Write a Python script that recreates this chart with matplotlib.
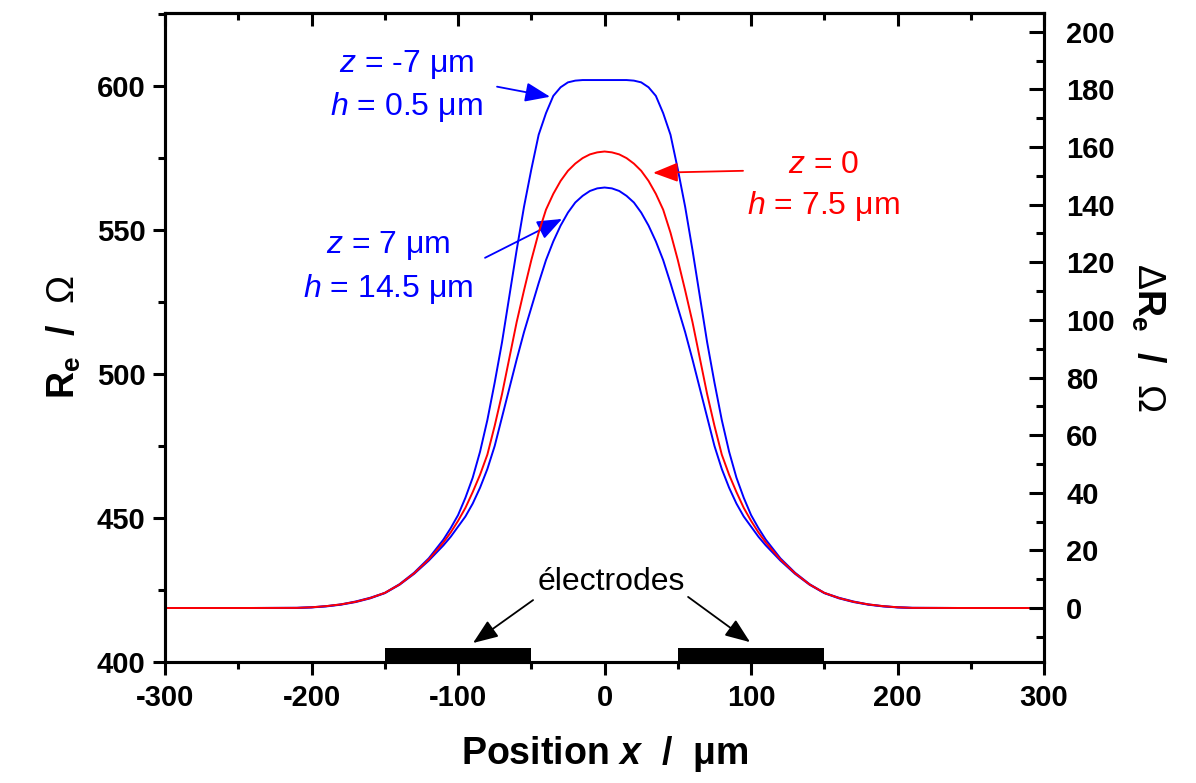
import numpy as np
import matplotlib.pyplot as plt
from matplotlib.ticker import MultipleLocator

plt.rcParams['font.family'] = ['Liberation Sans', 'DejaVu Sans']
plt.rcParams['axes.unicode_minus'] = False
plt.rcParams['mathtext.fontset'] = 'custom'
plt.rcParams['mathtext.rm'] = 'Liberation Sans'
plt.rcParams['mathtext.it'] = 'Liberation Sans:italic'
plt.rcParams['mathtext.bf'] = 'Liberation Sans:bold'
plt.rcParams['mathtext.bfit'] = 'Liberation Sans:italic:bold'

## ---------------------------------------------------------------------------
##  Data
## ---------------------------------------------------------------------------

# Position x / um
x_pos = [-300, -250, -210, -200, -190, -180, -170, -160, -150, -140, -130,
         -120,
         -110, -105, -100, -95, -90, -85, -80, -75, -70, -65, -60, -55, -50,
         -45, -40, -35, -30, -25, -20, -15, -10, -5,
         0,
         5, 10, 15, 20, 25, 30, 35, 40, 45, 50, 55, 60, 65, 70, 75, 80, 85,
         90, 95, 100, 105, 110,
         120, 130, 140, 150, 160, 170, 180, 190, 200, 210, 250, 300]

# Re / Ohm, z = -7 um (h = 0.5 um)
re_zm7 = [418.75, 418.75, 418.8, 419.0, 419.4, 420.0, 421.0, 422.3, 424.0,
          427.0, 431.0, 436.0,
          442.5, 446.5, 451, 457, 464, 473, 484, 497, 511, 527, 543, 558,
          571, 583, 590.5, 596.5, 599.5, 601.2, 601.8, 602, 602, 602,
          602,
          602, 602, 602, 601.8, 601.2, 599.5, 596.5, 590.5, 583, 571, 558,
          543, 527, 511, 497, 484, 473, 464, 457, 451, 446.5, 442.5,
          436.0, 431.0, 427.0, 424.0, 422.3, 421.0, 420.0, 419.4, 419.0,
          418.8, 418.75, 418.75]

# Re / Ohm, z = 0 (h = 7.5 um)
re_z0 = [418.75, 418.75, 418.8, 419.0, 419.4, 420.0, 420.9, 422.2, 424.0,
         426.9, 430.8, 435.6,
         441.5, 445, 449, 453.5, 459, 465, 472, 482, 493, 505.5, 518, 529,
         539.5, 549, 557, 562.5, 567, 570.5, 573, 574.9, 576.2, 576.9,
         577.2,
         576.9, 576.2, 574.9, 573, 570.5, 567, 562.5, 557, 549, 539.5, 529,
         518, 505.5, 493, 482, 472, 465, 459, 453.5, 449, 445, 441.5,
         435.6, 430.8, 426.9, 424.0, 422.2, 420.9, 420.0, 419.4, 419.0,
         418.8, 418.75, 418.75]

# Re / Ohm, z = 7 um (h = 14.5 um)
re_z7 = [418.75, 418.75, 418.8, 418.95, 419.3, 419.9, 420.8, 422.1, 423.9,
         426.8, 430.6, 435.2,
         440.5, 443.5, 447, 450.5, 455, 460.5, 467, 475, 485, 495, 505,
         514.5, 523, 531.5, 539.5, 546, 551.5, 556, 559.5, 561.8, 563.5,
         564.4,
         564.7,
         564.4, 563.5, 561.8, 559.5, 556, 551.5, 546, 539.5, 531.5, 523,
         514.5, 505, 495, 485, 475, 467, 460.5, 455, 450.5, 447, 443.5, 440.5,
         435.2, 430.6, 426.8, 423.9, 422.1, 420.8, 419.9, 419.3, 418.95,
         418.8, 418.75, 418.75]

# baseline resistance (zero of the right axis)
re_base = 418.75

# electrodes: centre and width (um)
elec_center = [-100, 100]
elec_width = [100, 100]

## ---------------------------------------------------------------------------
##  Figure
## ---------------------------------------------------------------------------

fig = plt.figure(figsize=(11.96, 7.83), dpi=100)
ax = fig.add_axes([0.138, 0.1545, 0.735, 0.829])

ax.plot(x_pos, re_zm7, color='#0000ff', lw=1.4, zorder=3)
ax.plot(x_pos, re_z7, color='#0000ff', lw=1.4, zorder=3)
ax.plot(x_pos, re_z0, color='#ff0000', lw=1.4, zorder=4)

ax.bar(elec_center, 5, width=elec_width, bottom=400, color='black',
       clip_on=False, zorder=5)

ax.set_xlim(-300, 300)
ax.set_ylim(400, 625.3)
ax.xaxis.set_major_locator(MultipleLocator(100))
ax.xaxis.set_minor_locator(MultipleLocator(50))
ax.yaxis.set_major_locator(MultipleLocator(50))
ax.yaxis.set_minor_locator(MultipleLocator(25))

for sp in ax.spines.values():
    sp.set_linewidth(2.2)

ax.tick_params(axis='both', which='major', direction='out', length=9,
               width=2.2, labelsize=21, pad=5)
ax.tick_params(axis='both', which='minor', direction='out', length=5,
               width=2.2)
ax.tick_params(axis='x', which='both', top=False)
ax.tick_params(axis='x', which='major', pad=7)
for lab in ax.get_xticklabels() + ax.get_yticklabels():
    lab.set_fontweight('bold')

# top axis: ticks pointing inwards, no labels
axt = ax.secondary_xaxis('top')
axt.xaxis.set_major_locator(MultipleLocator(100))
axt.xaxis.set_minor_locator(MultipleLocator(50))
axt.tick_params(axis='x', which='major', direction='in', length=9,
                width=2.2, labeltop=False)
axt.tick_params(axis='x', which='minor', direction='in', length=5,
                width=2.2)
axt.spines['top'].set_linewidth(2.2)

ax.set_xlabel(r'Position $\mathbfit{x}$  /  μm', fontsize=27,
              fontweight='bold', labelpad=16)
ax.set_ylabel(r'$\mathbf{R_e}$  /  $\mathrm{\Omega}$', fontsize=27,
              fontweight='bold', labelpad=10)

# right axis: Delta Re
axr = ax.twinx()
axr.set_ylim(400 - re_base, 625.3 - re_base)
axr.yaxis.set_minor_locator(MultipleLocator(10))
axr.set_yticks(np.arange(0, 201, 20))
axr.tick_params(axis='y', which='major', direction='in', length=11,
                width=2.2, labelsize=21, pad=16)
axr.tick_params(axis='y', which='minor', direction='in', length=6,
                width=2.2)
for lab in axr.get_yticklabels():
    lab.set_fontweight('bold')
for sp in axr.spines.values():
    sp.set_linewidth(2.2)
axr.set_ylabel(r'$\Delta\mathbf{R_e}$  /  $\mathrm{\Omega}$', fontsize=27,
               fontweight='bold', rotation=270, labelpad=38)

## annotations
fs = 23
ax.text(-135.5, 604.9, r'$z$ = -7 μm', color='#0000ff', fontsize=fs,
        ha='center', va='baseline')
ax.text(-135.5, 589.9, r'$h$ = 0.5 μm', color='#0000ff', fontsize=fs,
        ha='center', va='baseline')
ax.text(-147.8, 542.0, r'$z$ = 7 μm', color='#0000ff', fontsize=fs,
        ha='center', va='baseline')
ax.text(-147.8, 526.7, r'$h$ = 14.5 μm', color='#0000ff', fontsize=fs,
        ha='center', va='baseline')
ax.text(149.6, 569.8, r'$z$ = 0', color='#ff0000', fontsize=fs,
        ha='center', va='baseline')
ax.text(149.6, 555.6, r'$h$ = 7.5 μm', color='#ff0000', fontsize=fs,
        ha='center', va='baseline')
ax.text(4.4, 425.0, 'électrodes', color='black', fontsize=fs,
        ha='center', va='baseline')

arrow_kw = dict(arrowstyle='-|>,head_length=0.9,head_width=0.35',
                lw=1.3, shrinkA=0, shrinkB=0, mutation_scale=17)
ax.annotate('', xy=(-37.2, 596.2), xytext=(-73.4, 599.7),
            arrowprops=dict(color='#0000ff', **arrow_kw))
ax.annotate('', xy=(-29.0, 553.8), xytext=(-81.6, 540.3),
            arrowprops=dict(color='#0000ff', **arrow_kw))
ax.annotate('', xy=(33.1, 569.8), xytext=(94.5, 570.5),
            arrowprops=dict(color='#ff0000', **arrow_kw))
ax.annotate('', xy=(-89.8, 406.6), xytext=(-48.8, 421.5),
            arrowprops=dict(color='black', **arrow_kw))
ax.annotate('', xy=(99.3, 406.9), xytext=(57.0, 422.6),
            arrowprops=dict(color='black', **arrow_kw))

fig.savefig('out.png', dpi=100)
